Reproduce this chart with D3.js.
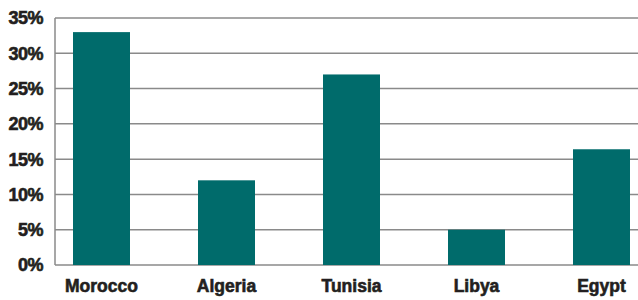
<!DOCTYPE html>
<html>
<head>
<meta charset="utf-8">
<script src="https://cdn.jsdelivr.net/npm/d3@7"></script>
<style>
  body { margin: 0; background: #fff; }
  text { font-family: "Liberation Sans", Arial, sans-serif; font-weight: bold; fill: #231f20; stroke: #231f20; stroke-width: 0.6px; }
</style>
</head>
<body>
<div id="chart"></div>
<script>
// data
const countries = ["Morocco", "Algeria", "Tunisia", "Libya", "Egypt"];
const shares = [33, 12, 27, 5, 16.4];
const yTicks = [0, 5, 10, 15, 20, 25, 30, 35];

const W = 638, H = 300;
const margin = {top: 18, left: 55, bottom: 35};
const barColor = "#006b6b";
const gridColor = "#8a8a8a";

const svg = d3.select("#chart").append("svg")
    .attr("width", W)
    .attr("height", H);

const y = d3.scaleLinear()
    .domain([0, 35])
    .range([H - margin.bottom, margin.top]);

// bars sit 125px apart, 57px wide; plot runs off the right edge
const x = d3.scaleBand()
    .domain(countries)
    .range([margin.left, 648])
    .paddingInner(0.544)
    .paddingOuter(0.144);

// gridlines
svg.append("g")
    .selectAll("line")
    .data(yTicks)
    .enter()
    .append("line")
        .attr("x1", margin.left)
        .attr("x2", W)
        .attr("y1", d => y(d))
        .attr("y2", d => y(d))
        .style("stroke", gridColor)
        .style("stroke-width", 1.5);

// left axis line
svg.append("line")
    .attr("x1", margin.left)
    .attr("x2", margin.left)
    .attr("y1", y(35))
    .attr("y2", y(0))
    .style("stroke", gridColor)
    .style("stroke-width", 1.5);

// bars
svg.append("g")
    .selectAll("rect")
    .data(countries)
    .enter()
    .append("rect")
        .attr("x", d => x(d))
        .attr("width", x.bandwidth())
        .attr("y", (d, i) => y(shares[i]))
        .attr("height", (d, i) => y(0) - y(shares[i]))
        .style("fill", barColor);

// y tick labels
svg.append("g")
    .selectAll("text")
    .data(yTicks)
    .enter()
    .append("text")
        .attr("x", 43)
        .attr("y", d => y(d))
        .attr("dy", "0.36em")
        .attr("text-anchor", "end")
        .style("font-size", "18px")
        .style("letter-spacing", "-0.5px")
        .text(d => d + "%");

// category labels
svg.append("g")
    .selectAll("text")
    .data(countries)
    .enter()
    .append("text")
        .attr("x", d => x(d) + x.bandwidth() / 2)
        .attr("y", 292)
        .attr("text-anchor", "middle")
        .style("font-size", "17.5px")
        .text(d => d);
</script>
</body>
</html>
